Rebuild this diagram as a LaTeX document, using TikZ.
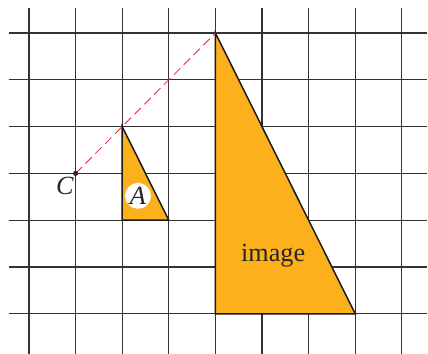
\documentclass[tikz,border=0pt]{standalone}
\usepackage{fontspec}
\setmainfont{Liberation Serif}
\begin{document}
\begin{tikzpicture}[x=1cm,y=1.004cm,
  gridline/.style={line width=0.75pt, draw=black!80},
  tri/.style={draw=black!90, line width=0.9pt, fill=triorange, line join=miter},
  ray/.style={draw=rayred, line width=0.5pt, dash pattern=on 5.5pt off 3pt},
  lbl/.style={font=\fontsize{16}{16}\selectfont, text=black!85}]
\definecolor{triorange}{RGB}{252,176,28}
\definecolor{rayred}{RGB}{222,40,60}
\useasboundingbox (-0.622,0.706) rectangle (8.562,-6.858);
% grid
\foreach \i in {0,...,8} \draw[gridline] (\i,0.53) -- (\i,-6.9);
\foreach \j in {0,...,6} \draw[gridline] (-0.43,-\j) -- (8.54,-\j);
% points
\coordinate (C) at (1,-3);
\coordinate (a1) at (2,-2);
\coordinate (a2) at (2,-4);
\coordinate (a3) at (3,-4);
\coordinate (b1) at (4,0);
\coordinate (b2) at (4,-6);
\coordinate (b3) at (7,-6);
% triangles
\draw[tri] (a1) -- (a2) -- (a3) -- cycle;
\draw[tri] (b1) -- (b2) -- (b3) -- cycle;
% ray
\draw[ray] (C) -- (b1);
\fill[black!85] (C) circle (0.055);
% labels
\node[lbl] (Clab) at (0.77,-3.27) {\textit{C}};
\node[lbl, circle, fill=white, inner sep=0.5pt, minimum size=0.48cm] (Alab) at (2.34,-3.48) {\textit{A}};
\node[lbl] (img) at (5.24,-4.76) {image};
\end{tikzpicture}
\end{document}
